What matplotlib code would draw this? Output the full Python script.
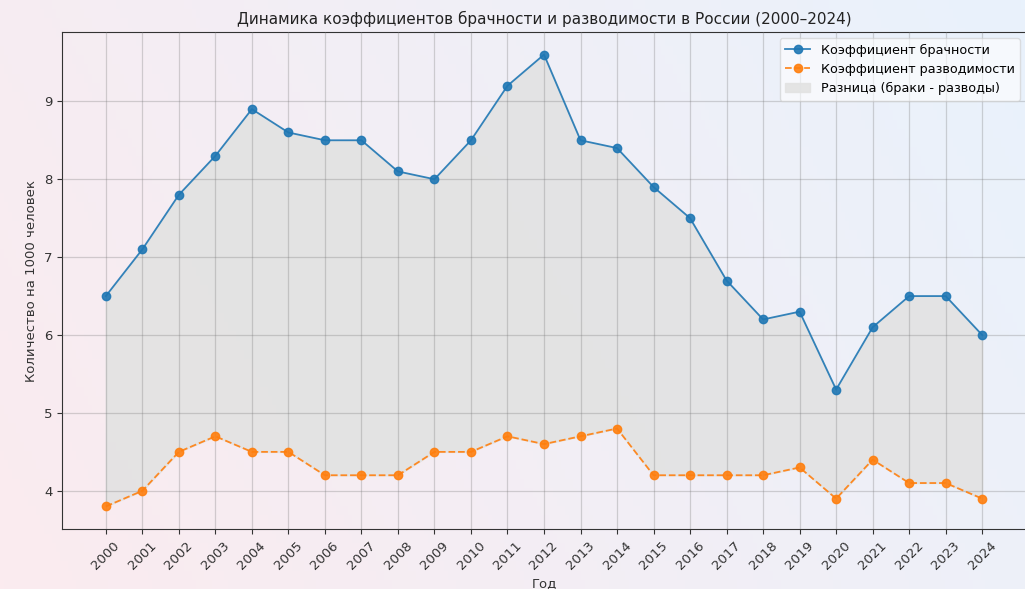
import matplotlib
matplotlib.use("Agg")
import matplotlib.pyplot as plt
import numpy as np

years = list(range(2000, 2025))
marriage = [6.5, 7.1, 7.8, 8.3, 8.9, 8.6, 8.5, 8.5, 8.1, 8.0, 8.5, 9.2, 9.6,
            8.5, 8.4, 7.9, 7.5, 6.7, 6.2, 6.3, 5.3, 6.1, 6.5, 6.5, 6.0]
divorce = [3.8, 4.0, 4.5, 4.7, 4.5, 4.5, 4.2, 4.2, 4.2, 4.5, 4.5, 4.7, 4.6,
           4.7, 4.8, 4.2, 4.2, 4.2, 4.2, 4.3, 3.9, 4.4, 4.1, 4.1, 3.9]
title = "Динамика коэффициентов брачности и разводимости в России (2000–2024)"

fig = plt.figure(figsize=(10.25, 5.89), dpi=100)

# background gradient
bg = fig.add_axes([0, 0, 1, 1], zorder=-10)
w, h = 256, 64
xx = np.linspace(0, 1, w)[None, :]
yy = np.linspace(0, 1, h)[:, None]
t = np.clip(0.75 * xx + 0.25 * yy, 0, 1)
c0 = np.array([251, 235, 239]) / 255
c1 = np.array([233, 242, 252]) / 255
img = c0[None, None, :] * (1 - t[..., None]) + c1[None, None, :] * t[..., None]
bg.imshow(img, aspect="auto", extent=[0, 1, 0, 1], origin="lower")
bg.axis("off")

ax = fig.add_axes([62 / 1025, 60 / 589, 964 / 1025, 497 / 589])
ax.set_facecolor("none")

ax.plot(years, marriage, marker="o", color="#1f77b4", label="Коэффициент брачности",
        linewidth=1.3, markersize=6, alpha=0.9, zorder=3)
ax.plot(years, divorce, marker="o", linestyle="--", color="#ff7f0e",
        label="Коэффициент разводимости", linewidth=1.3, markersize=6, alpha=0.9, zorder=3)
ax.fill_between(years, marriage, divorce, color="#e2e2e2", alpha=0.9,
                label="Разница (браки - разводы)", zorder=1)

ax.set_xticks(years)
ax.set_xticklabels([str(y) for y in years], rotation=45)
ax.set_yticks([4, 5, 6, 7, 8, 9])
ax.grid(True, color="#777777", alpha=0.3, linewidth=0.9, zorder=2)
ax.set_axisbelow(False)
for s in ax.spines.values():
    s.set_color("#333333")
ax.tick_params(labelsize=9.5, colors="#333333")

ax.set_title(title, fontsize=11, color="#222222")
ax.set_xlabel("Год", fontsize=9.5, color="#333333")
ax.set_ylabel("Количество на 1000 человек", fontsize=9.5, color="#333333")

ax.legend(loc="upper right", fontsize=9.2, framealpha=0.6)

fig.savefig("out.png", dpi=100)
